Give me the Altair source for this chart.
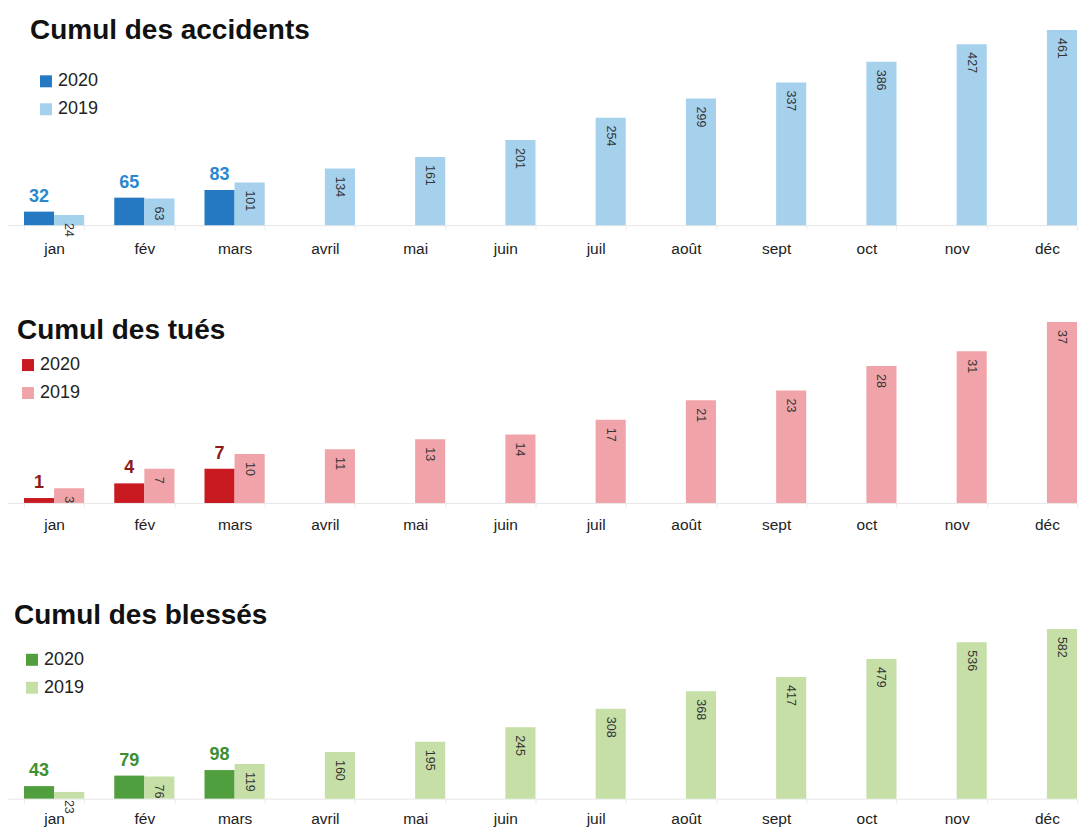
import altair as alt
import pandas as pd

months = ["jan", "fév", "mars", "avril", "mai", "juin", "juil", "août", "sept", "oct", "nov", "déc"]
years = ["2020", "2019"]

acc_2019 = [24, 63, 101, 134, 161, 201, 254, 299, 337, 386, 427, 461]
acc_2020 = [32, 65, 83]
tues_2019 = [3, 7, 10, 11, 13, 14, 17, 21, 23, 28, 31, 37]
tues_2020 = [1, 4, 7]
bles_2019 = [23, 76, 119, 160, 195, 245, 308, 368, 417, 479, 536, 582]
bles_2020 = [43, 79, 98]

FONT = "Liberation Sans"


def make_df(v19, v20):
    rows = []
    for m, v in zip(months, v20):
        rows.append({"month": m, "year": "2020", "value": v})
    for m, v in zip(months, v19):
        rows.append({"month": m, "year": "2019", "value": v})
    return pd.DataFrame(rows)


def panel(v19, v20, title, c20, c19, lab20, height, ymax, tx, ty, lx, ly, lpad):
    df = make_df(v19, v20)
    base = alt.Chart(df)
    x = alt.X(
        "month:N",
        sort=months,
        scale=alt.Scale(domain=months, paddingInner=0.333, paddingOuter=0.0886, align=1),
        axis=alt.Axis(
            title=None, labelAngle=0, labelFontSize=15.5, labelColor="#222",
            labelFont=FONT, labelPadding=lpad, domainColor="#e6e6e6",
            tickColor="#ececec", tickSize=5, tickBand="extent", grid=False,
        ),
    )
    xo = alt.XOffset("year:N", scale=alt.Scale(domain=years, paddingInner=0, paddingOuter=0))
    y = alt.Y("value:Q", scale=alt.Scale(domain=[0, ymax], nice=False, zero=True), axis=None)

    bars = base.mark_bar().encode(
        x=x, xOffset=xo, y=y,
        color=alt.Color(
            "year:N",
            scale=alt.Scale(domain=years, range=[c20, c19]),
            legend=alt.Legend(
                title=None, orient="none", legendX=lx, legendY=ly,
                symbolType="square", symbolSize=144, symbolStrokeWidth=0,
                symbolOpacity=1, labelFontSize=18, labelColor="#222",
                labelFont=FONT, rowPadding=10, labelOffset=3,
            ),
        ),
    )
    t19 = base.transform_filter(alt.datum.year == "2019").mark_text(
        angle=90, align="left", baseline="middle", dx=8, fontSize=12.5,
        color="#333", font=FONT,
    ).encode(x=x, xOffset=xo, y=y, text="value:Q")
    t20 = base.transform_filter(alt.datum.year == "2020").mark_text(
        align="center", baseline="alphabetic", dy=-10, fontSize=18,
        fontWeight="bold", color=lab20, font=FONT,
    ).encode(x=x, xOffset=xo, y=y, text="value:Q")
    ttl = alt.Chart(pd.DataFrame({"t": [title]})).mark_text(
        align="left", baseline="alphabetic", fontSize=28, fontWeight="bold",
        color="#111", font=FONT,
    ).encode(x=alt.value(tx), y=alt.value(ty), text="t:N")
    return alt.layer(bars, t19, t20, ttl).properties(width=1070, height=height)


p1 = panel(acc_2019, acc_2020, "Cumul des accidents", "#2479c2", "#a5d1ed", "#2b88cf",
           217, 512, 22, 31, 29, 64, 11)
p2 = panel(tues_2019, tues_2020, "Cumul des tués", "#c91a22", "#f0a4a9", "#8e1b1b",
           209, 42.7, 9, 45, 11, 62, 10)
p3 = panel(bles_2019, bles_2020, "Cumul des blessés", "#519e3e", "#c5dfa7", "#3d8f32",
           228, 781, 6, 53, 15, 80, 8)

chart = (
    alt.vconcat(p1, p2, p3, spacing=37)
    .resolve_scale(color="independent", x="independent", y="independent")
    .resolve_legend(color="independent")
    .properties(padding={"left": 0, "top": 0, "right": 0, "bottom": 0})
    .configure(font=FONT)
    .configure_view(strokeWidth=0, stroke=None)
)

chart.save("out.html", embed_options={"renderer": "svg", "actions": False})
